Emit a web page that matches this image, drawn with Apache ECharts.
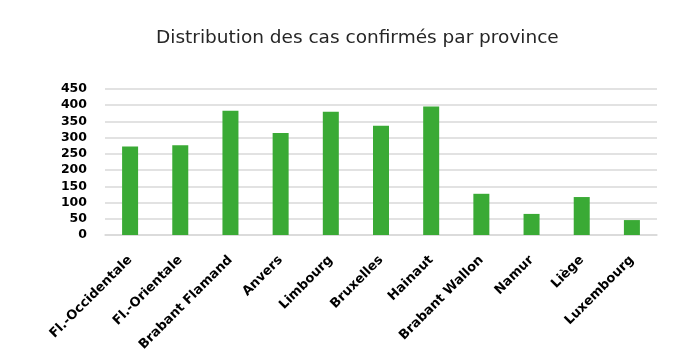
<!DOCTYPE html>
<html>
<head>
<meta charset="utf-8">
<script src="https://cdn.jsdelivr.net/npm/echarts@6/dist/echarts.min.js"></script>
<style>html,body{margin:0;padding:0;background:#fff;}#c{width:697px;height:363px;}</style>
</head>
<body>
<div id="c"></div>
<script>
const categories = ['Fl.-Occidentale','Fl.-Orientale','Brabant Flamand','Anvers','Limbourg','Bruxelles','Hainaut','Brabant Wallon','Namur','Liège','Luxembourg'];
const cases = [273, 277, 383, 314, 380, 337, 396, 127, 65, 117, 46];
const titleText = 'Distribution des cas confirmés par province';

const chart = echarts.init(document.getElementById('c'), null, {renderer: 'canvas'});
chart.setOption({
  backgroundColor: '#ffffff',
  animation: false,
  title: {
    text: titleText,
    left: 151,
    top: 24,
    textStyle: {fontFamily: 'DejaVu Sans', fontWeight: 'normal', fontSize: 18.5, color: '#262626'}
  },
  grid: {left: 105, right: 40, top: 89, bottom: 128, containLabel: false},
  xAxis: {
    type: 'category',
    data: categories,
    axisTick: {show: false},
    axisLine: {lineStyle: {color: '#d9d9d9', width: 1.5}},
    axisLabel: {rotate: 45, interval: 0, fontFamily: 'DejaVu Sans', fontWeight: 'bold', fontSize: 13, color: '#000', margin: 23}
  },
  yAxis: {
    type: 'value',
    min: 0, max: 450, interval: 50,
    axisLine: {show: false},
    axisTick: {show: false},
    splitLine: {lineStyle: {color: '#d9d9d9', width: 1.5}},
    axisLabel: {fontFamily: 'DejaVu Sans', fontWeight: 'bold', fontSize: 12.5, color: '#000', margin: 18}
  },
  series: [{
    type: 'bar',
    data: cases,
    barWidth: 16,
    itemStyle: {color: '#3aaa35'}
  }]
});
</script>
</body>
</html>
